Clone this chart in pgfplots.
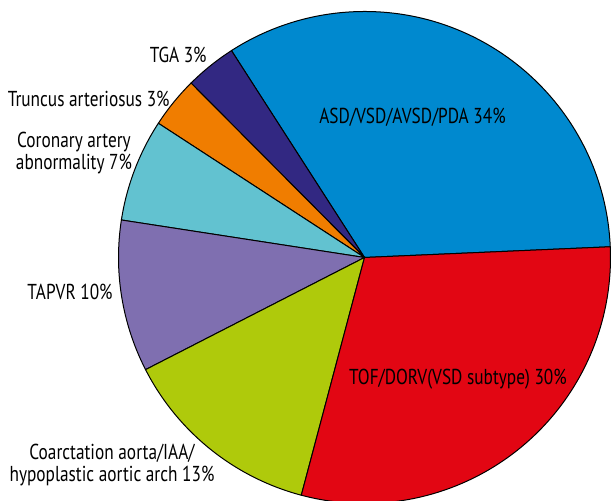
\documentclass[border=0pt]{standalone}
\usepackage{pgfplots}
\pgfplotsset{compat=1.18}
\usepackage{fontspec}
\setmainfont{PT Sans}[FakeStretch=0.8]
\definecolor{cASD}{RGB}{0,137,207}
\definecolor{cTGA}{RGB}{50,40,130}
\definecolor{cTRU}{RGB}{240,125,0}
\definecolor{cCOR}{RGB}{98,194,208}
\definecolor{cTAP}{RGB}{127,111,176}
\definecolor{cCOA}{RGB}{175,202,11}
\definecolor{cTOF}{RGB}{226,6,19}
\tikzset{lbl/.style={font=\fontsize{10.8}{11}\selectfont, inner sep=0pt}}
\begin{document}
\begin{tikzpicture}
\begin{axis}[
  scale only axis, width=305.5pt, height=250.5pt,
  xmin=0, xmax=611, ymin=0, ymax=501,
  hide axis, clip=true,
]
% centre (364.5,243.5), radius 246 units = 123pt; shares in percent
\def\cx{364.5}\def\cy{243.5}
\filldraw[fill=cASD, draw=black, line width=0.5pt] (axis cs:\cx,\cy) -- (axis cs:{\cx+246*cos(2.5)},{\cy+246*sin(2.5)}) arc[start angle=2.5, delta angle={3.6*33.40}, radius=123pt] -- cycle;
\filldraw[fill=cTGA, draw=black, line width=0.5pt] (axis cs:\cx,\cy) -- (axis cs:{\cx+246*cos(122.74)},{\cy+246*sin(122.74)}) arc[start angle=122.74, delta angle={3.6*3.36}, radius=123pt] -- cycle;
\filldraw[fill=cTRU, draw=black, line width=0.5pt] (axis cs:\cx,\cy) -- (axis cs:{\cx+246*cos(134.84)},{\cy+246*sin(134.84)}) arc[start angle=134.84, delta angle={3.6*3.36}, radius=123pt] -- cycle;
\filldraw[fill=cCOR, draw=black, line width=0.5pt] (axis cs:\cx,\cy) -- (axis cs:{\cx+246*cos(146.93)},{\cy+246*sin(146.93)}) arc[start angle=146.93, delta angle={3.6*6.75}, radius=123pt] -- cycle;
\filldraw[fill=cTAP, draw=black, line width=0.5pt] (axis cs:\cx,\cy) -- (axis cs:{\cx+246*cos(171.23)},{\cy+246*sin(171.23)}) arc[start angle=171.23, delta angle={3.6*9.97}, radius=123pt] -- cycle;
\filldraw[fill=cCOA, draw=black, line width=0.5pt] (axis cs:\cx,\cy) -- (axis cs:{\cx+246*cos(207.12)},{\cy+246*sin(207.12)}) arc[start angle=207.12, delta angle={3.6*13.33}, radius=123pt] -- cycle;
\filldraw[fill=cTOF, draw=black, line width=0.5pt] (axis cs:\cx,\cy) -- (axis cs:{\cx+246*cos(255.11)},{\cy+246*sin(255.11)}) arc[start angle=255.11, delta angle={3.6*29.83}, radius=123pt] -- cycle;
% labels
\node[lbl] at (axis cs:412.5,384) {ASD/VSD/AVSD/PDA 34\%};
\node[lbl] at (axis cs:458,122) {TOF/DORV(VSD subtype) 30\%};
\node[lbl, anchor=east] at (axis cs:207,446) {TGA 3\%};
\node[lbl, anchor=east] at (axis cs:170,402) {Truncus arteriosus 3\%};
\node[lbl, align=center] at (axis cs:74,347.5) {Coronary artery\\abnormality 7\%};
\node[lbl, anchor=east] at (axis cs:113,209) {TAPVR 10\%};
\node[lbl, align=center] at (axis cs:112,36) {Coarctation aorta/IAA/\\hypoplastic aortic arch 13\%};
\end{axis}
\path (current axis.south west) rectangle (current axis.north east);
\end{tikzpicture}
\end{document}
